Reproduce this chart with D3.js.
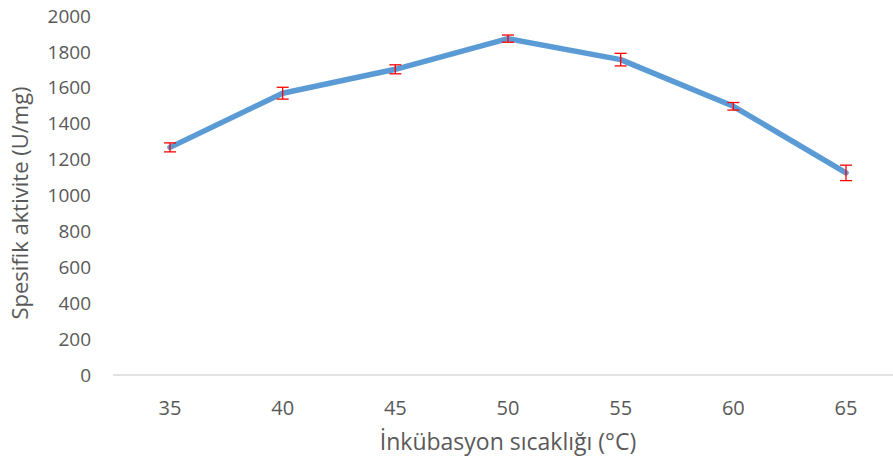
<!DOCTYPE html>
<html>
<head>
<meta charset="utf-8">
<script src="https://cdn.jsdelivr.net/npm/d3@7"></script>
<style>
  html, body { margin: 0; padding: 0; background: #fff; }
  svg { display: block; font-family: "Open Sans", sans-serif; }
</style>
</head>
<body>
<svg id="chart" width="893" height="464"></svg>
<script>
// Incubation temperature (°C) and specific activity (U/mg) with standard deviation
const temperatures = [35, 40, 45, 50, 55, 60, 65];
const activity = [1268, 1570, 1703, 1874, 1757, 1497, 1126];
const errors = [25, 33, 25, 20, 35, 21, 43];
const yTicks = [0, 200, 400, 600, 800, 1000, 1200, 1400, 1600, 1800, 2000];

const svg = d3.select("#chart");
const margin = { left: 113, right: 0, top: 16, bottom: 89 };
const W = 893, H = 464;

const x = d3.scalePoint()
  .domain(temperatures)
  .range([170, 846]);

const y = d3.scaleLinear()
  .domain([0, 2000])
  .range([H - margin.bottom, margin.top]);

// baseline axis
svg.append("line")
  .attr("x1", margin.left).attr("x2", W)
  .attr("y1", y(0)).attr("y2", y(0))
  .attr("stroke", "#d9d9d9").attr("stroke-width", 1.3);

// y tick labels
svg.append("g").selectAll("text")
  .data(yTicks).join("text")
  .attr("x", 91)
  .attr("y", d => y(d))
  .attr("dy", "0.35em")
  .attr("text-anchor", "end")
  .attr("font-size", 19)
  .attr("fill", "#595959")
  .text(d => d);

// x tick labels
svg.append("g").selectAll("text")
  .data(temperatures).join("text")
  .attr("x", d => x(d))
  .attr("y", 408)
  .attr("dy", "0.35em")
  .attr("text-anchor", "middle")
  .attr("font-size", 20)
  .attr("fill", "#595959")
  .text(d => d);

// axis titles
svg.append("text")
  .attr("x", 508).attr("y", 442)
  .attr("dy", "0.35em")
  .attr("text-anchor", "middle")
  .attr("font-size", 23)
  .attr("fill", "#595959")
  .text("İnkübasyon sıcaklığı (°C)");

svg.append("text")
  .attr("transform", "translate(20,203) rotate(-90)")
  .attr("dy", "0.35em")
  .attr("text-anchor", "middle")
  .attr("font-size", 22)
  .attr("fill", "#595959")
  .text("Spesifik aktivite (U/mg)");

const pts = temperatures.map((t, i) => ({ t, v: activity[i], e: errors[i] }));

// data line
svg.append("path")
  .datum(pts)
  .attr("fill", "none")
  .attr("stroke", "#5b9bd5")
  .attr("stroke-width", 5.5)
  .attr("stroke-linejoin", "round")
  .attr("stroke-linecap", "round")
  .attr("d", d3.line().x(d => x(d.t)).y(d => y(d.v)));

// error bars
const eb = svg.append("g").attr("stroke", "#ff0000").attr("stroke-width", 1.3);
pts.forEach(d => {
  const cx = x(d.t);
  eb.append("line").attr("x1", cx).attr("x2", cx).attr("y1", y(d.v - d.e)).attr("y2", y(d.v + d.e));
  eb.append("line").attr("x1", cx - 6).attr("x2", cx + 6).attr("y1", y(d.v - d.e)).attr("y2", y(d.v - d.e));
  eb.append("line").attr("x1", cx - 6).attr("x2", cx + 6).attr("y1", y(d.v + d.e)).attr("y2", y(d.v + d.e));
});
</script>
</body>
</html>
